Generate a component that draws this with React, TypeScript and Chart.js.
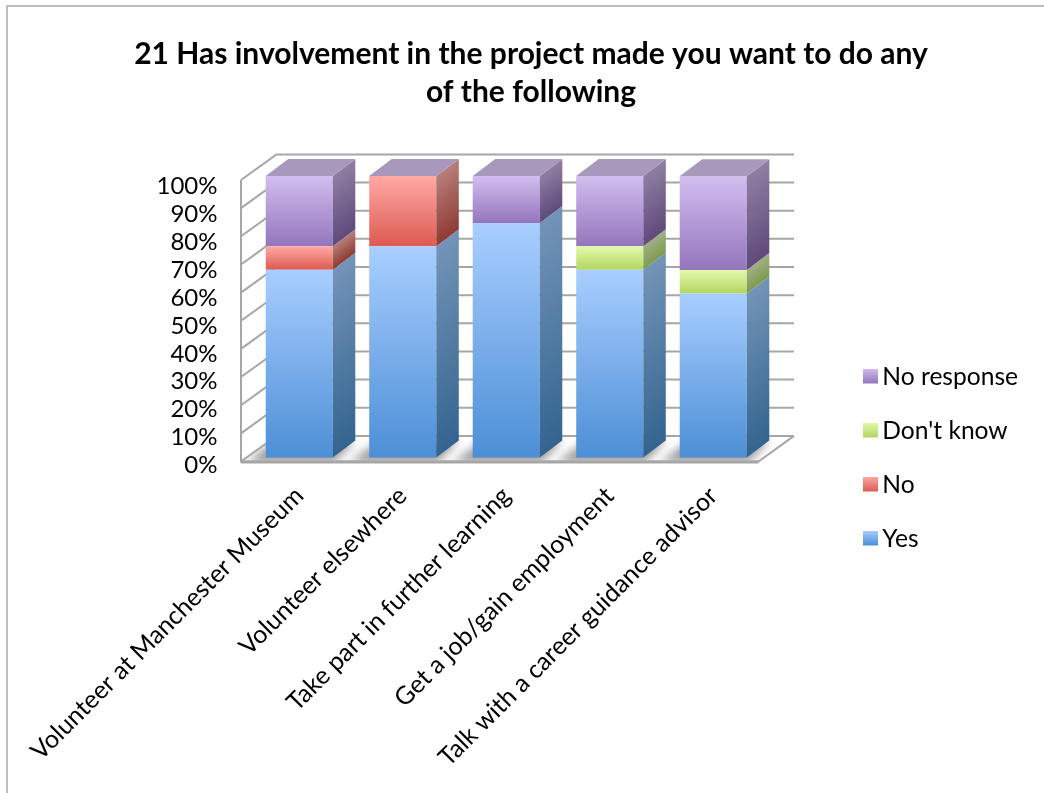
import React, { useEffect, useRef } from "react";
import { Chart, registerables } from "chart.js";

Chart.register(...registerables);

const categories = [
  "Volunteer at Manchester Museum",
  "Volunteer elsewhere",
  "Take part in further learning",
  "Get a job/gain employment",
  "Talk with a career guidance advisor",
];
const yesValues = [66.7, 75, 83.3, 66.7, 58.3];
const noValues = [8.3, 25, 0, 0, 0];
const dontKnowValues = [0, 0, 0, 8.3, 8.3];
const noResponseValues = [25, 0, 16.7, 25, 33.3];
const seriesNames = ["Yes", "No", "Don't know", "No response"];
const titleLines = [
  "21 Has involvement in the project made you want to do any",
  "of the following",
];

const seriesValues = [yesValues, noValues, dontKnowValues, noResponseValues];
const frontColors = [
  ["#A9CEFF", "#4C8FD6"],
  ["#FFA9A6", "#DD5A50"],
  ["#E4FBAD", "#B3D460"],
  ["#D2BEF0", "#9475BC"],
];
const sideColors = [
  ["#7394B8", "#33648F"],
  ["#B87E7A", "#8E3A33"],
  ["#9FB085", "#7F9A4E"],
  ["#8F7EA3", "#5F4A7B"],
];
const TOP_FACE = "#A898BC";
const LINE = "#A6A6A6";
const FONT = "Lato";
const BAR_DX = 22.5;
const BAR_DY = -17;
const WALL_DX = 35.5;
const WALL_DY = -25.6;
const FLOOR_SHIFT = -6.5;

function legendSwatch(colors: string[]) {
  const c = document.createElement("canvas");
  c.width = 19;
  c.height = 18;
  const g = c.getContext("2d")!;
  const grad = g.createLinearGradient(0, 0, 0, 15);
  grad.addColorStop(0, colors[0]);
  grad.addColorStop(1, colors[1]);
  g.fillStyle = grad;
  g.fillRect(4, 0, 15, 15);
  return c;
}

function poly(ctx: CanvasRenderingContext2D, pts: number[][]) {
  ctx.beginPath();
  pts.forEach((p, i) => (i ? ctx.lineTo(p[0], p[1]) : ctx.moveTo(p[0], p[1])));
  ctx.closePath();
}

const frame3d = {
  id: "frame3d",
  afterLayout(chart: any) {
    if (chart.titleBlock) {
      chart.titleBlock.left = 18;
      chart.titleBlock.right = 1044;
    }
    const lg = chart.legend;
    if (lg) {
      const w = lg.width;
      const h = lg.height;
      lg.left = 837.6;
      lg.right = 837.6 + w;
      lg.top = 335.8;
      lg.bottom = 335.8 + h;
    }
  },
  beforeDraw(chart: any) {
    const { ctx, width, height } = chart;
    ctx.save();
    ctx.fillStyle = "#fff";
    ctx.fillRect(0, 0, width, height);
    ctx.strokeStyle = "#A8A8A8";
    ctx.lineWidth = 1.5;
    ctx.beginPath();
    ctx.moveTo(7, height);
    ctx.lineTo(7, 6);
    ctx.lineTo(width, 6);
    ctx.stroke();
    ctx.restore();
  },
  beforeDatasetsDraw(chart: any) {
    const { ctx, chartArea } = chart;
    const yAxis = chart.scales.y;
    const x0 = chartArea.left + FLOOR_SHIFT;
    const x1 = chartArea.right + FLOOR_SHIFT;
    const floorY = yAxis.getPixelForValue(0);
    ctx.save();
    ctx.strokeStyle = LINE;
    ctx.lineWidth = 2;
    for (const v of yAxis.ticks.map((t: any) => t.value)) {
      const y = yAxis.getPixelForValue(v);
      ctx.beginPath();
      ctx.moveTo(x0, y);
      ctx.lineTo(x0 + WALL_DX, y + WALL_DY);
      ctx.lineTo(x1 + WALL_DX, y + WALL_DY);
      ctx.stroke();
    }
    ctx.beginPath();
    ctx.moveTo(x0, yAxis.getPixelForValue(100));
    ctx.lineTo(x0, floorY);
    ctx.lineTo(x1, floorY);
    ctx.lineTo(x1 + WALL_DX, floorY + WALL_DY);
    ctx.stroke();
    ctx.lineWidth = 3;
    ctx.beginPath();
    ctx.moveTo(x0, floorY + 0.5);
    ctx.lineTo(x1, floorY + 0.5);
    ctx.stroke();

    // soft floor shadow under the bars
    ctx.save();
    poly(ctx, [
      [x0 + 1, floorY - 1],
      [x1 - 1, floorY - 1],
      [x1 + WALL_DX - 2, floorY + WALL_DY + 1],
      [x0 + WALL_DX, floorY + WALL_DY + 1],
    ]);
    ctx.clip();
    ctx.filter = "blur(5px)";
    ctx.fillStyle = "#9A9A9A";
    const meta = chart.getDatasetMeta(0);
    meta.data.forEach((el: any) => {
      const l = el.x - el.width / 2;
      const r = el.x + el.width / 2;
      const b = el.base;
      poly(ctx, [
        [l - 20, b + 5],
        [r + 2, b + 5],
        [r + BAR_DX, b + BAR_DY],
        [l + 10, b + BAR_DY],
      ]);
      ctx.fill();
    });
    ctx.restore();
    ctx.restore();
  },
  afterDatasetsDraw(chart: any) {
    const { ctx } = chart;
    const len = Math.hypot(BAR_DX, BAR_DY);
    const nx = -BAR_DY / len;
    const ny = BAR_DX / len;
    ctx.save();
    seriesValues.forEach((_, si) => {
      const meta = chart.getDatasetMeta(si);
      meta.data.forEach((el: any) => {
        const right = el.x + el.width / 2;
        const top = el.y;
        const bottom = el.base;
        const h = Math.abs(bottom - top);
        if (h > 0.01) {
          const g = ctx.createLinearGradient(
            right,
            top,
            right + nx * h * ny,
            top + ny * h * ny
          );
          g.addColorStop(0, sideColors[si][0]);
          g.addColorStop(1, sideColors[si][1]);
          ctx.fillStyle = g;
          poly(ctx, [
            [right, top],
            [right + BAR_DX, top + BAR_DY],
            [right + BAR_DX, bottom + BAR_DY],
            [right, bottom],
          ]);
          ctx.fill();
        }
        if (si === seriesValues.length - 1) {
          const left = el.x - el.width / 2;
          ctx.fillStyle = TOP_FACE;
          poly(ctx, [
            [left, top],
            [right, top],
            [right + BAR_DX, top + BAR_DY],
            [left + BAR_DX, top + BAR_DY],
          ]);
          ctx.fill();
        }
      });
    });
    ctx.restore();
  },
};

function fillFor(si: number) {
  return (c: any) => {
    if (c.dataIndex === undefined) return frontColors[si][1];
    const scale = c.chart.scales.yBars;
    let below = 0;
    for (let k = 0; k < si; k++) below += seriesValues[k][c.dataIndex];
    const v = seriesValues[si][c.dataIndex];
    const y0 = scale?.getPixelForValue(below + v);
    const y1 = scale?.getPixelForValue(below);
    if (!Number.isFinite(y0) || !Number.isFinite(y1)) return frontColors[si][1];
    const g = c.chart.ctx.createLinearGradient(0, y0, 0, y1);
    g.addColorStop(0, frontColors[si][0]);
    g.addColorStop(1, frontColors[si][1]);
    return g;
  };
}

export default function App() {
  const ref = useRef<HTMLCanvasElement>(null);
  useEffect(() => {
    const swatches = frontColors.map(legendSwatch);
    const hiddenFit = (s: any) => {
      s.width = 0;
    };
    const chart = new Chart(ref.current!, {
      type: "bar",
      data: {
        labels: categories,
        datasets: seriesValues.map((vals, si) => ({
          label: seriesNames[si],
          data: vals,
          yAxisID: "yBars",
          backgroundColor: fillFor(si),
          pointStyle: swatches[si],
          barPercentage: 1,
          categoryPercentage: 0.648,
        })),
      } as any,
      plugins: [frame3d],
      options: {
        responsive: false,
        animation: false,
        events: [],
        layout: {
          autoPadding: false,
          padding: { left: 0, right: 279, top: 0, bottom: 0 },
        },
        plugins: {
          tooltip: { enabled: false },
          title: {
            display: true,
            text: titleLines,
            color: "#000",
            font: { family: FONT, size: 30, weight: "bold", lineHeight: 38 / 30 },
            padding: { top: 35, bottom: 59 },
          },
          legend: {
            position: "chartArea",
            align: "start",
            reverse: true,
            labels: {
              usePointStyle: true,
              boxWidth: 3,
              boxHeight: 15,
              padding: 29.4,
              color: "#000",
              font: { family: FONT, size: 24.6 },
            },
          },
        },
        scales: {
          x: {
            stacked: true,
            grid: { display: false, drawTicks: false },
            border: { display: false },
            ticks: {
              color: "#000",
              font: { family: FONT, size: 25 },
              autoSkip: false,
              minRotation: 45,
              maxRotation: 45,
              padding: 11,
            },
            afterFit: (s: any) => {
              s.height = 793 - 470;
              s.paddingLeft = 0;
              s.paddingRight = 0;
            },
          },
          yLabels: {
            position: "left",
            min: -1.64,
            max: 105.93,
            grid: { display: false, drawTicks: false },
            border: { display: false },
            ticks: {
              stepSize: 10,
              autoSkip: false,
              includeBounds: false,
              padding: 30,
              color: "#000",
              font: { family: FONT, size: 24 },
              callback: (v: any) => `${v}%`,
            },
            afterFit: (s: any) => {
              s.width = 247.5;
            },
          },
          y: {
            display: false,
            min: -3.02,
            max: 103.55,
            grid: { display: false, drawTicks: false },
            ticks: { stepSize: 10, includeBounds: false, autoSkip: false },
            afterFit: hiddenFit,
          },
          yBars: {
            display: false,
            stacked: true,
            min: -4.44,
            max: 102.13,
            grid: { display: false, drawTicks: false },
            afterFit: hiddenFit,
          },
        },
      },
    } as any);
    return () => chart.destroy();
  }, []);
  return (
    <div style={{ position: "absolute", left: 0, top: 0, width: 1044, height: 793, overflow: "hidden" }}>
      <canvas ref={ref} width={1044} height={793} style={{ display: "block" }} />
    </div>
  );
}
